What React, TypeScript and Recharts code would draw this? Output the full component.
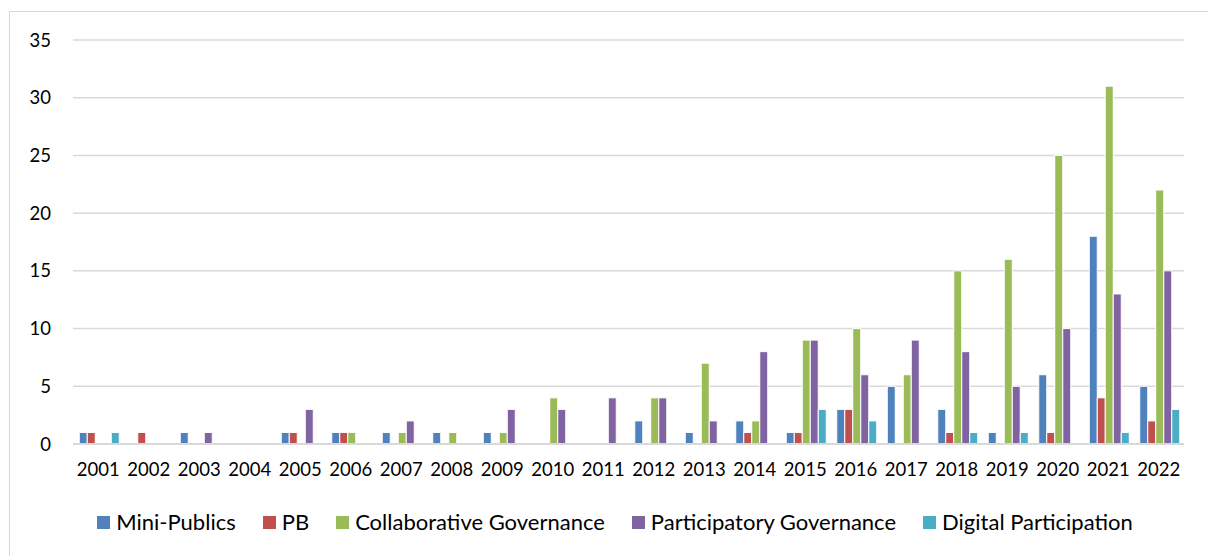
import React from "react"
import { Bar, BarChart, CartesianGrid, Legend, XAxis, YAxis } from "recharts"

// publication counts per year, by research strand
const years = [
    "2001", "2002", "2003", "2004", "2005", "2006", "2007", "2008", "2009", "2010", "2011",
    "2012", "2013", "2014", "2015", "2016", "2017", "2018", "2019", "2020", "2021", "2022",
]
const miniPublics = [1, 0, 1, 0, 1, 1, 1, 1, 1, 0, 0, 2, 1, 2, 1, 3, 5, 3, 1, 6, 18, 5]
const pb = [1, 1, 0, 0, 1, 1, 0, 0, 0, 0, 0, 0, 0, 1, 1, 3, 0, 1, 0, 1, 4, 2]
const collaborative = [0, 0, 0, 0, 0, 1, 1, 1, 1, 4, 0, 4, 7, 2, 9, 10, 6, 15, 16, 25, 31, 22]
const participatory = [0, 0, 1, 0, 3, 0, 2, 0, 3, 3, 4, 4, 2, 8, 9, 6, 9, 8, 5, 10, 13, 15]
const digital = [1, 0, 0, 0, 0, 0, 0, 0, 0, 0, 0, 0, 0, 0, 3, 2, 0, 1, 1, 0, 1, 3]
const yTicks = [0, 5, 10, 15, 20, 25, 30, 35]

const series = [
    { key: "mp", name: "Mini-Publics", color: "#4F81BD", values: miniPublics },
    { key: "pb", name: "PB", color: "#C0504D", values: pb },
    { key: "cg", name: "Collaborative Governance", color: "#9BBB59", values: collaborative },
    { key: "pg", name: "Participatory Governance", color: "#8064A2", values: participatory },
    { key: "dp", name: "Digital Participation", color: "#4BACC6", values: digital },
]

const data = years.map((year, i) => {
    const row: Record<string, string | number> = { year }
    series.forEach((s) => {
        row[s.key] = s.values[i]
    })
    return row
})

const FONT = "Lato, 'Open Sans', sans-serif"

// legend keeps the series order (recharts would sort it by name)
function LegendRow() {
    return (
        <div style={{ display: "flex", justifyContent: "center", alignItems: "center", fontFamily: FONT, fontSize: 22, lineHeight: 1.2 }}>
            {series.map((s, i) => (
                <div key={s.key} style={{ display: "flex", alignItems: "center", marginRight: i < series.length - 1 ? 27 : 0 }}>
                    <span style={{ width: 13, height: 13, background: s.color, marginRight: 6, display: "inline-block" }} />
                    <span style={{ color: "#000" }}>{s.name}</span>
                </div>
            ))}
        </div>
    )
}

export default function App() {
    return (
        <div style={{ position: "absolute", left: 0, top: 0, width: 1208, height: 556, background: "#fff", overflow: "hidden" }}>
            <div
                style={{
                    position: "absolute",
                    left: 9,
                    top: 11,
                    width: 1220,
                    height: 600,
                    border: "1px solid #d9d9d9",
                }}
            />
            <BarChart
                width={1208}
                height={556}
                data={data}
                margin={{ top: 40, right: 24, left: 10, bottom: 82 }}
                barCategoryGap="12.4%"
                barGap={0}
                style={{ position: "absolute", left: 0, top: 0 }}
            >
                <CartesianGrid vertical={false} stroke="#d9d9d9" strokeWidth={1.5} />
                <XAxis
                    dataKey="year"
                    height={30}
                    tickLine={false}
                    tickSize={0}
                    tickMargin={19}
                    axisLine={{ stroke: "#d9d9d9", strokeWidth: 2 }}
                    tick={{ fill: "#000", fontSize: 18.5, fontFamily: FONT }}
                    interval={0}
                />
                <YAxis
                    width={63}
                    domain={[0, 35]}
                    ticks={yTicks}
                    axisLine={false}
                    tickLine={false}
                    tickSize={0}
                    tickMargin={22}
                    tick={{ fill: "#000", fontSize: 18.5, fontFamily: FONT }}
                />
                <Legend
                    layout="horizontal"
                    verticalAlign="middle"
                    align="center"
                    wrapperStyle={{ top: 509, left: 11, width: 1208 }}
                    content={<LegendRow />}
                />
                {series.map((s) => (
                    <Bar
                        key={s.key}
                        dataKey={s.key}
                        name={s.name}
                        fill={s.color}
                        stroke="#ffffff"
                        strokeWidth={1}
                        isAnimationActive={false}
                    />
                ))}
            </BarChart>
        </div>
    )
}
